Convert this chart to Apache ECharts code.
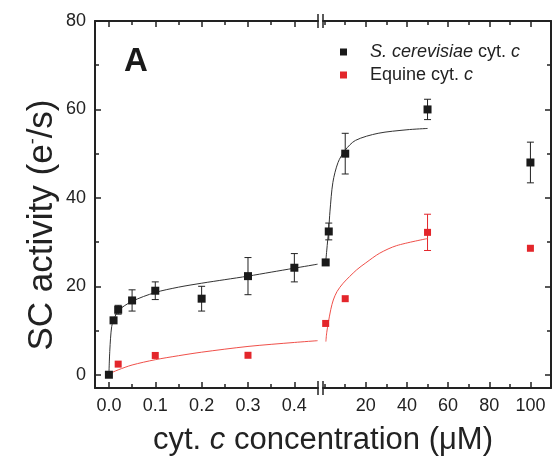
<!DOCTYPE html>
<html>
<head>
<meta charset="utf-8">
<script src="https://cdn.jsdelivr.net/npm/echarts@6/dist/echarts.min.js"></script>
<style>
  html, body { margin: 0; padding: 0; background: #fff; }
  #chart { width: 556px; height: 463px; }
</style>
</head>
<body>
<div id="chart"></div>
<script>
// S. cerevisiae cyt. c, low range (left of the axis break)
const scerLowX = [0, 0.01, 0.02, 0.05, 0.1, 0.2, 0.3, 0.4];
const scerLowY = [0, 12.3, 14.7, 16.8, 19.0, 17.2, 22.3, 24.2];
const scerLowErr = [0, 0, 1.0, 2.4, 2.0, 2.8, 4.2, 3.2];
// S. cerevisiae cyt. c, high range (right of the break, µM)
const scerHighX = [0.5, 2, 10, 50, 100];
const scerHighY = [25.4, 32.4, 50.0, 60.0, 48.0];
const scerHighErr = [0, 1.9, 4.6, 2.3, 4.6];

// Equine cyt. c
const equiLowX = [0.02, 0.1, 0.3];
const equiLowY = [2.4, 4.36, 4.4];
const equiHighX = [0.5, 10, 50, 100];
const equiHighY = [11.6, 17.2, 32.2, 28.6];
const equiHighErr = [0, 0, 4.1, 0];

// fitted curves
const scerFitLowX = [0, 0.002, 0.006, 0.012, 0.02, 0.05, 0.1, 0.15, 0.2, 0.25, 0.3, 0.35, 0.4, 0.45];
const scerFitLowY = [0, 5.6, 10.9, 12.8, 14.5, 16.6, 18.6, 19.8, 20.7, 21.5, 22.3, 23.2, 24.1, 25.0];
const scerFitHighX = [0.5, 1, 1.5, 2, 2.6, 4, 6.5, 10, 15, 26, 40, 50];
const scerFitHighY = [25.4, 28.0, 30.5, 33.0, 37.0, 43.5, 48.0, 50.8, 53.0, 54.6, 55.4, 55.7];
const equiFitLowX = [0, 0.02, 0.05, 0.1, 0.15, 0.2, 0.3, 0.4, 0.45];
const equiFitLowY = [0.2, 1.1, 2.2, 3.4, 4.3, 5.1, 6.4, 7.3, 7.7];
const equiFitHighX = [0.6, 1, 1.75, 3, 4.2, 6, 9, 15.5, 20, 26.8, 35, 50];
const equiFitHighY = [7.5, 9.5, 11.7, 14.8, 16.9, 18.8, 20.7, 23.7, 25.3, 27.5, 29.2, 30.8];

// axis ticks
const lowMajor = [0, 0.1, 0.2, 0.3, 0.4];
const lowMinor = [0.05, 0.15, 0.25, 0.35];
const highMajor = [20, 40, 60, 80, 100];
const highMinor = [0, 10, 30, 50, 70, 90];
const yMajor = [0, 20, 40, 60, 80];
const yMinor = [10, 30, 50, 70];

const SCER = 'S. cerevisiae cyt. c';
const EQUI = 'Equine cyt. c';
const FONT = '"Liberation Sans", Arial, sans-serif';
const INK = '#222';
const RED = '#e3262b';

const zip = (xs, ys, es) => xs.map((x, i) => es ? [x, ys[i], es[i]] : [x, ys[i]]);

function axis(gridIndex, position, min, max, ticks, len, labels, fmt) {
  return {
    type: 'value', gridIndex, position, min, max,
    axisLine: { show: !!len.line, onZero: false, lineStyle: { color: INK, width: 2 } },
    axisTick: { show: true, inside: true, length: len.tick, customValues: ticks,
      lineStyle: { color: INK, width: 1.5 } },
    axisLabel: labels ? { show: true, customValues: labels, margin: 9, fontSize: 18,
      fontFamily: FONT, color: INK, formatter: fmt } : { show: false },
    splitLine: { show: false }
  };
}

const Y_MIN = -3, Y_MAX = 80;
const LOW_MIN = -0.03, LOW_MAX = 0.451;
const HIGH_MIN = -0.8, HIGH_MAX = 110;

const xAxis = [
  axis(0, 'bottom', LOW_MIN, LOW_MAX, lowMajor, { line: 1, tick: 6 }, lowMajor, v => v.toFixed(1)),
  axis(0, 'bottom', LOW_MIN, LOW_MAX, lowMinor, { tick: 4 }),
  axis(0, 'top', LOW_MIN, LOW_MAX, lowMajor, { line: 1, tick: 6 }),
  axis(0, 'top', LOW_MIN, LOW_MAX, lowMinor, { tick: 4 }),
  axis(1, 'bottom', HIGH_MIN, HIGH_MAX, highMajor, { line: 1, tick: 6 }, highMajor, v => String(v)),
  axis(1, 'bottom', HIGH_MIN, HIGH_MAX, highMinor, { tick: 4 }),
  axis(1, 'top', HIGH_MIN, HIGH_MAX, highMajor, { line: 1, tick: 6 }),
  axis(1, 'top', HIGH_MIN, HIGH_MAX, highMinor, { tick: 4 })
];
const yAxis = [
  axis(0, 'left', Y_MIN, Y_MAX, yMajor, { line: 1, tick: 6 }, yMajor, v => String(v)),
  axis(0, 'left', Y_MIN, Y_MAX, yMinor, { tick: 4 }),
  axis(1, 'right', Y_MIN, Y_MAX, yMajor, { line: 1, tick: 6 }),
  axis(1, 'right', Y_MIN, Y_MAX, yMinor, { tick: 4 })
];

// vertical error bar with caps, drawn through the axis scales
function errorBars(name, data, color, xi, yi) {
  return {
    type: 'custom', name: name + ' err', coordinateSystem: 'cartesian2d',
    xAxisIndex: xi, yAxisIndex: yi, z: 1, silent: true,
    encode: { x: 0, y: 1 },
    data: data.filter(d => d[2] > 0),
    renderItem: (params, api) => {
      const x = api.value(0), y = api.value(1), e = api.value(2);
      const top = api.coord([x, y + e]);
      const bot = api.coord([x, y - e]);
      const st = { stroke: color, lineWidth: 1 };
      return {
        type: 'group',
        children: [
          { type: 'line', shape: { x1: top[0], y1: top[1], x2: bot[0], y2: bot[1] }, style: st },
          { type: 'line', shape: { x1: top[0] - 3.5, y1: top[1], x2: top[0] + 3.5, y2: top[1] }, style: st },
          { type: 'line', shape: { x1: bot[0] - 3.5, y1: bot[1], x2: bot[0] + 3.5, y2: bot[1] }, style: st }
        ]
      };
    }
  };
}

function points(name, data, color, size, xi, yi) {
  return {
    type: 'scatter', name, xAxisIndex: xi, yAxisIndex: yi, z: 3,
    symbol: 'rect', symbolSize: size, data,
    itemStyle: { color, opacity: 1 }
  };
}

function fit(name, data, color, xi, yi) {
  return {
    type: 'line', name, xAxisIndex: xi, yAxisIndex: yi, z: 2,
    data, smooth: 0.3, showSymbol: false, symbol: 'none', silent: true,
    lineStyle: { color, width: 1 }
  };
}

const series = [
  fit('scer fit low', zip(scerFitLowX, scerFitLowY), '#333', 0, 0),
  fit('scer fit high', zip(scerFitHighX, scerFitHighY), '#333', 4, 2),
  fit('equi fit low', zip(equiFitLowX, equiFitLowY), '#f0504a', 0, 0),
  fit('equi fit high', zip(equiFitHighX, equiFitHighY), '#f0504a', 4, 2),
  errorBars(SCER, zip(scerLowX, scerLowY, scerLowErr), INK, 0, 0),
  errorBars(SCER, zip(scerHighX, scerHighY, scerHighErr), INK, 4, 2),
  errorBars(EQUI, zip(equiHighX, equiHighY, equiHighErr), RED, 4, 2),
  points(SCER, zip(scerLowX, scerLowY), '#1a1a1a', 8, 0, 0),
  points(SCER, zip(scerHighX, scerHighY), '#1a1a1a', 8, 4, 2),
  points(EQUI, zip(equiLowX, equiLowY), RED, 7, 0, 0),
  points(EQUI, zip(equiHighX, equiHighY), RED, 7, 4, 2)
];

const G_TOP = 21, G_H = 367;
const G0_LEFT = 95, G0_W = 223;
const G1_LEFT = 323, G1_W = 228;

// axis break marks "||" on top and bottom frame lines
const breakMarks = [];
[G0_LEFT + G0_W, G1_LEFT].forEach(x => {
  [G_TOP, G_TOP + G_H].forEach(y => {
    breakMarks.push({ type: 'line', shape: { x1: x, y1: y - 7, x2: x, y2: y + 7 },
      style: { stroke: INK, lineWidth: 1.5 } });
  });
});

const chart = echarts.init(document.getElementById('chart'));
chart.setOption({
  animation: false,
  backgroundColor: '#fff',
  grid: [
    { left: G0_LEFT, top: G_TOP, width: G0_W, height: G_H, outerBoundsMode: 'none' },
    { left: G1_LEFT, top: G_TOP, width: G1_W, height: G_H, outerBoundsMode: 'none' }
  ],
  xAxis, yAxis, series,
  legend: {
    data: [SCER, EQUI], orient: 'vertical', left: 340, top: 43, padding: 0,
    icon: 'rect', itemWidth: 7, itemHeight: 7, itemGap: 5,
    formatter: n => n === SCER ? '{sp|}{i|S. cerevisiae} cyt. {i|c}' : '{sp|}Equine cyt. {i|c}',
    textStyle: {
      fontSize: 18, fontFamily: FONT, color: INK, lineHeight: 18,
      rich: {
        sp: { width: 18 },
        i: { fontStyle: 'italic', fontSize: 18, fontFamily: FONT, color: INK }
      }
    }
  },
  graphic: [
    ...breakMarks,
    { type: 'text', silent: true,
      style: { text: 'A', x: 124, y: 61.5, font: 'bold 33px ' + FONT, fill: '#1a1a1a',
        align: 'left', verticalAlign: 'middle' } },
    { type: 'text', silent: true,
      style: { text: 'cyt. {i|c} concentration (μM)', x: 323, y: 440,
        fontSize: 31, fontFamily: FONT, fill: INK, align: 'center', verticalAlign: 'middle',
        rich: { i: { fontStyle: 'italic', fontSize: 31, fontFamily: FONT, fill: INK } } } },
    { type: 'text', silent: true, x: 42, y: 225, rotation: Math.PI / 2,
      style: { text: 'SC activity (e{sup|-}/s)', x: 0, y: 0,
        fontSize: 35, fontFamily: FONT, fill: INK, align: 'center', verticalAlign: 'middle',
        rich: { sup: { fontSize: 18, fontFamily: FONT, fill: INK, verticalAlign: 'top' } } } }
  ]
});
</script>
</body>
</html>
